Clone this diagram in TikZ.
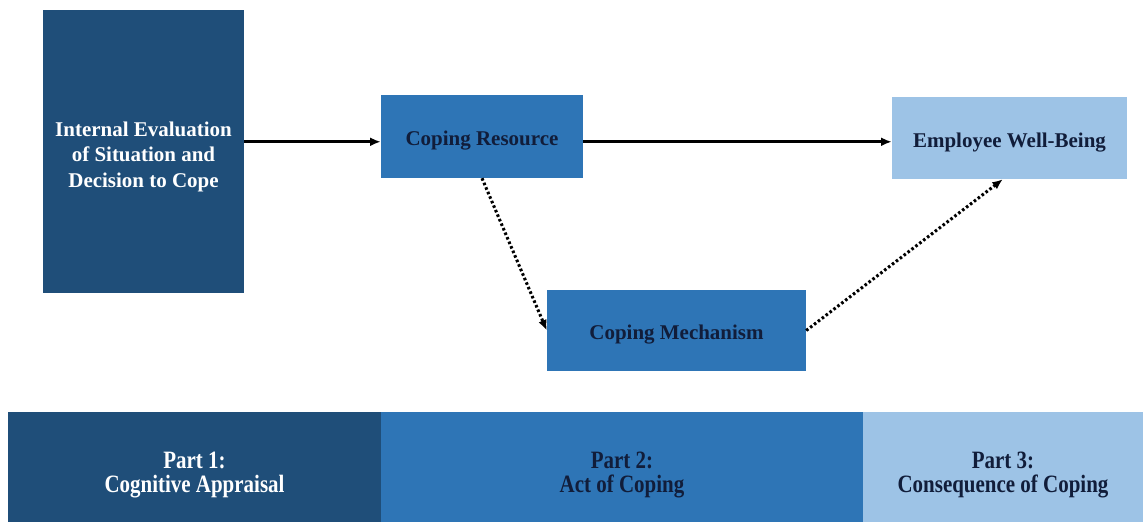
\documentclass[tikz,border=0pt]{standalone}
\usepackage{fontspec}
\setmainfont{Liberation Serif}
\newfontfamily\bandfont{Liberation Serif}[FakeStretch=0.84]
\usetikzlibrary{arrows.meta}

\definecolor{darkblue}{HTML}{1F4E79}
\definecolor{midblue}{HTML}{2E75B6}
\definecolor{lightblue}{HTML}{9DC3E6}
\definecolor{navytext}{HTML}{111D3A}

\tikzset{
  box/.style={rectangle, inner sep=0pt, align=center, text height=0.7cm,
    font=\fontsize{17.9}{21.8}\selectfont\bfseries, text=navytext},
  band/.style={rectangle, inner sep=0pt, align=center, minimum height=3.78cm,
    font=\bandfont\fontsize{21.3}{20.5}\selectfont\bfseries, text=navytext},
  flow/.style={-{Latex[length=9pt,width=7.5pt]}, line width=2.3pt},
  dotflow/.style={-{Latex[length=9pt,width=7.5pt]}, line width=2.6pt,
    dash pattern=on 2.2pt off 2pt}
}

\begin{document}
\begin{tikzpicture}
  \useasboundingbox (0,0) rectangle (34.29,-15.63);
  %Define nodes
  \node[box, fill=darkblue, text=white, text height=2.3cm, minimum width=6.03cm, minimum height=8.49cm] (eval) at (4.305,-4.53)
    {Internal Evaluation\\of Situation and\\Decision to Cope};
  \node[box, fill=midblue, minimum width=6.06cm, minimum height=2.49cm] (resource) at (14.46,-4.095) {Coping Resource};
  \node[box, fill=lightblue, minimum width=7.05cm, minimum height=2.46cm] (wellbeing) at (30.285,-4.14) {Employee Well-Being};
  \node[box, fill=midblue, minimum width=7.77cm, minimum height=2.43cm] (mechanism) at (20.295,-9.915) {Coping Mechanism};

  % bottom band
  \node[band, fill=darkblue, text=white, minimum width=11.19cm] (part1) at (5.835,-14.25) {Part 1:\\Cognitive Appraisal};
  \node[band, fill=midblue, minimum width=14.46cm] (part2) at (18.66,-14.25) {Part 2:\\Act of Coping};
  \node[band, fill=lightblue, minimum width=8.4cm] (part3) at (30.09,-14.25) {Part 3:\\Consequence of Coping};

  % Connect the nodes
  \draw[flow] ([yshift=-4.5pt]resource.west -| eval.east) -- ([yshift=-4.5pt]resource.west);
  \draw[flow] ([yshift=-4.5pt]resource.east) -- ([yshift=-4.5pt]resource.east -| wellbeing.west);
  \draw[dotflow] (resource.south) -- (mechanism.west);
  \draw[dotflow] (mechanism.east) -- ([xshift=-0.2cm]wellbeing.south);
\end{tikzpicture}
\end{document}
